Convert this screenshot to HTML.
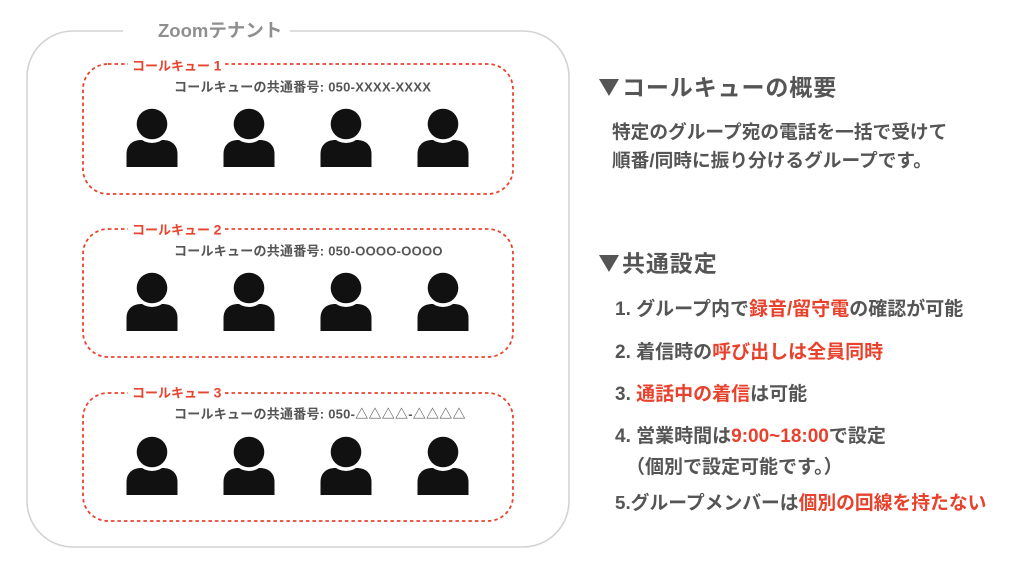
<!DOCTYPE html>
<html>
<head>
<meta charset="utf-8">
<style>
html,body{margin:0;padding:0;background:#fff;}
body{width:1024px;height:566px;overflow:hidden;}
svg{display:block;}
text{font-family:"Liberation Sans","Noto Sans CJK JP",sans-serif;font-weight:bold;}
</style>
</head>
<body>
<svg width="1024" height="566" viewBox="0 0 1024 566" xmlns="http://www.w3.org/2000/svg">
<defs>
  <g id="person">
    <path d="M0,58 V45 C0,36 6,31 15,31 L36,31 C45,31 51,36 51,45 V58 Z" fill="#111"/>
    <circle cx="25.5" cy="15" r="19" fill="#fff"/>
    <circle cx="25.5" cy="15" r="15.3" fill="#111"/>
  </g>
</defs>

<!-- outer tenant box -->
<path d="M290,31 H523 A46,46 0 0 1 569,77 V501 A46,46 0 0 1 523,547 H73 A46,46 0 0 1 27,501 V77 A46,46 0 0 1 73,31 H123" fill="none" stroke="#d3d3d3" stroke-width="1.6"/>
<text x="158" y="37" font-size="18.5" fill="#8f8f8f">Zoomテナント</text>

<!-- box 1 -->
<rect x="83" y="64" width="430" height="130" rx="25" ry="25" fill="none" stroke="#e8442f" stroke-width="1.8" stroke-dasharray="3.5 3"/>
<rect x="128" y="60" width="95" height="9" fill="#fff"/>
<text x="132" y="70.5" font-size="13" fill="#e8442f">コールキュー <tspan font-size="14">1</tspan></text>
<text x="174" y="91.5" font-size="13" fill="#555" letter-spacing="0.25">コールキューの共通番号: 050-XXXX-XXXX</text>
<use href="#person" x="126.5" y="109"/>
<use href="#person" x="223.5" y="109"/>
<use href="#person" x="320.5" y="109"/>
<use href="#person" x="417.5" y="109"/>

<!-- box 2 -->
<rect x="83" y="229" width="430" height="128" rx="25" ry="25" fill="none" stroke="#e8442f" stroke-width="1.8" stroke-dasharray="3.5 3"/>
<rect x="128" y="225" width="95" height="9" fill="#fff"/>
<text x="132" y="234.5" font-size="13" fill="#e8442f">コールキュー <tspan font-size="14">2</tspan></text>
<text x="174" y="255.5" font-size="13" fill="#555" letter-spacing="0.25">コールキューの共通番号: 050-OOOO-OOOO</text>
<use href="#person" x="126.5" y="273"/>
<use href="#person" x="223.5" y="273"/>
<use href="#person" x="320.5" y="273"/>
<use href="#person" x="417.5" y="273"/>

<!-- box 3 -->
<rect x="83" y="393" width="430" height="128" rx="25" ry="25" fill="none" stroke="#e8442f" stroke-width="1.8" stroke-dasharray="3.5 3"/>
<rect x="128" y="389" width="95" height="9" fill="#fff"/>
<text x="132" y="397.5" font-size="13" fill="#e8442f">コールキュー <tspan font-size="14">3</tspan></text>
<text x="174" y="418.5" font-size="13" fill="#555" letter-spacing="0.25">コールキューの共通番号: 050-△△△△-△△△△</text>
<use href="#person" x="126.5" y="437"/>
<use href="#person" x="223.5" y="437"/>
<use href="#person" x="320.5" y="437"/>
<use href="#person" x="417.5" y="437"/>

<!-- right side -->
<polygon points="599,79 619,79 609,96" fill="#555"/>
<text x="622" y="95.5" font-size="23" fill="#555" letter-spacing="0.9">コールキューの概要</text>
<text x="612" y="138.5" font-size="18.7" fill="#555">特定のグループ宛の電話を一括で受けて</text>
<text x="612" y="167" font-size="18.7" fill="#555">順番/同時に振り分けるグループです。</text>

<polygon points="599,255 619,255 609,272" fill="#555"/>
<text x="622" y="271.5" font-size="23" fill="#555" letter-spacing="0.9">共通設定</text>

<text x="615" y="315" font-size="19" fill="#555">1. グループ内で<tspan fill="#e8412c">録音/留守電</tspan>の確認が可能</text>
<text x="615" y="358" font-size="19" fill="#555">2. 着信時の<tspan fill="#e8412c">呼び出しは全員同時</tspan></text>
<text x="615" y="400" font-size="19" fill="#555">3. <tspan fill="#e8412c">通話中の着信</tspan>は可能</text>
<text x="615" y="442" font-size="19" fill="#555">4. 営業時間は<tspan fill="#e8412c">9:00~18:00</tspan>で設定</text>
<text x="626" y="473" font-size="19" fill="#555">（個別で設定可能です。）</text>
<text x="615" y="509" font-size="18.8" fill="#555">5.グループメンバーは<tspan fill="#e8412c">個別の回線を持たない</tspan></text>
</svg>
</body>
</html>
